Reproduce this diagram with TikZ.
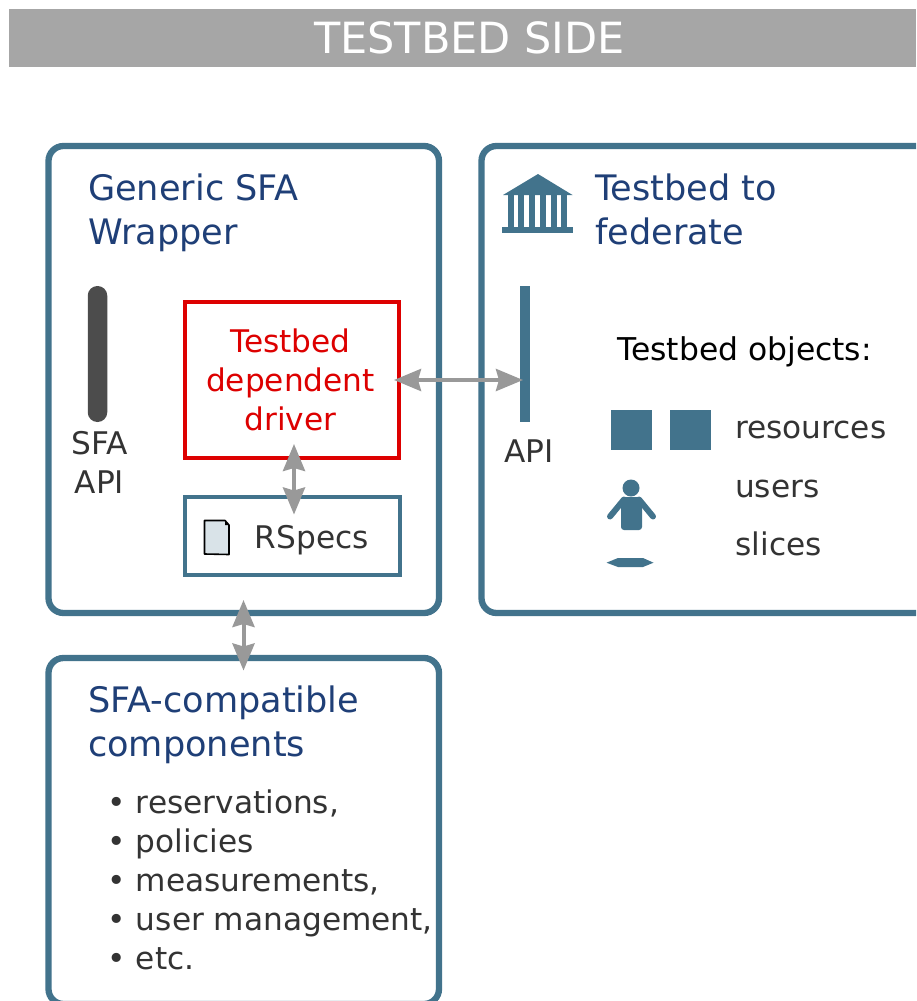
\documentclass[tikz,border=0pt]{standalone}
\usepackage{fontspec}
\setmainfont{DejaVu Sans}
\usetikzlibrary{arrows.meta}
\definecolor{steel}{HTML}{42738C}
\definecolor{headblue}{HTML}{1F3F77}
\definecolor{bodygray}{HTML}{333333}
\definecolor{drvred}{HTML}{DD0000}
\definecolor{arrowgray}{HTML}{999999}
\tikzset{
 panel/.style={draw=steel,line width=6.3pt,rounded corners=15pt,fill=white},
 heading/.style={anchor=base west,inner sep=0pt,text=headblue,align=left,font=\fontsize{35.1}{44}\selectfont},
 bodytext/.style={anchor=base west,inner sep=0pt,text=bodygray,font=\fontsize{31.2}{39}\selectfont},
 midtext/.style={anchor=base,inner sep=0pt,text=bodygray,align=center,font=\fontsize{31.2}{39}\selectfont},
 biarrow/.style={draw=arrowgray,line width=4pt,{Stealth[length=27pt,width=22pt,inset=3pt]}-{Stealth[length=27pt,width=22pt,inset=3pt]}},
 steelfill/.style={fill=steel,draw=none},
}
\begin{document}
\begin{tikzpicture}[x=1pt,y=-1pt]
\useasboundingbox[clip] (0,0) rectangle (916,1001);
\node[fill=white,draw=none,inner sep=0pt,minimum width=916pt,minimum height=1001pt] (page) at (458,500.5) {};
% title
\fill[fill=black!35] (9,9) rectangle (916,67);
\node[anchor=base,inner sep=0pt,text=white,font=\fontsize{43}{50}\selectfont] (title) at (469.5,53) {TESTBED SIDE};
% panels
\draw[panel] (48.5,146) rectangle (439,613);
\draw[panel] (481.5,146) rectangle (960,613);
\draw[panel] (48.5,658) rectangle (439,1004);
% headings
\node[heading] (generic) at (88,244) {Generic SFA\\Wrapper};
\node[heading] (testbed) at (595,244) {Testbed to\\federate};
\node[heading] (compat) at (88,756) {SFA-compatible\\components};
% temple
\fill[steelfill] (538,174) -- (572.5,195) -- (503,195) -- cycle;
\foreach \cx in {508,518.3,529,540,551,561}{\fill[steelfill] (\cx,195) rectangle ++(6,32);}
\fill[steelfill] (502,227) rectangle (572.5,233);
% SFA API
\node[fill=black!70,draw=none,rounded corners=9.7pt,minimum width=19.5pt,minimum height=136pt,inner sep=0pt] (sfaapi) at (97.5,354) {};
\node[midtext] (sfalabel) at (99.5,493) {SFA\\API};
% driver
\node[draw=drvred,line width=4pt,fill=white,minimum width=214pt,minimum height=156pt,inner sep=0pt,outer sep=0pt] (driver) at (292,380) {};
\node[anchor=base,inner sep=0pt,text=drvred,align=center,font=\fontsize{31.2}{39}\selectfont] (drvtext) at (290.5,430.5) {Testbed\\dependent\\driver};
% rspecs
\node[draw=steel,line width=4pt,fill=white,minimum width=215pt,minimum height=78pt,inner sep=0pt,outer sep=0pt] (rspecs) at (292.5,536) {};
\fill[fill=steel!20] (204.5,520.5) -- (225,520.5) -- (229,525) -- (229,554.5) -- (204.5,554) -- cycle;
\draw[black,line width=1.6pt,line join=round] (204.5,520.5) -- (225,520.5) -- (229,525) -- (229,554.5) -- (204.5,554) -- cycle;
\fill[black] (225,520.5) -- (229,525) -- (225,525) -- cycle;
\node[bodytext] (rspecstext) at (254.5,548.5) {RSpecs};
% API bar
\node[steelfill,minimum width=10pt,minimum height=136pt,inner sep=0pt,outer sep=0pt] (apibar) at (525,354) {};
\node[bodytext] (apilabel) at (504,462) {API};
% objects
\node[anchor=base west,inner sep=0pt,text=black,font=\fontsize{31.4}{39}\selectfont] (objects) at (617,360) {Testbed objects:};
\fill[steelfill] (611,410) rectangle (652,450);
\fill[steelfill] (670,410) rectangle (711,450);
\node[bodytext] (resources) at (735,438) {resources};
\node[bodytext] (users) at (735,497) {users};
\node[bodytext] (slices) at (735.5,555.5) {slices};
% person
\fill[steelfill] (631,488) circle (8.5);
\fill[steelfill,rounded corners=3pt] (621,497) rectangle (642,530);
\draw[steel,line width=6pt,line cap=round] (624,499.5) -- (610,516.5);
\draw[steel,line width=6pt,line cap=round] (639,499.5) -- (653,516.5);
% slice
\fill[steelfill] (606.5,562.7) -- (618,558) -- (643,558) -- (653.5,562.7) -- (643,567) -- (618,567) -- cycle;
% bullets
\node[anchor=base west,inner sep=0pt,text=bodygray,align=left,font=\fontsize{31.2}{39}\selectfont] (list) at (107.5,969) {•\ reservations,\\•\ policies\\•\ measurements,\\•\ user management,\\•\ etc.};
% connectors
\coordinate (drvE) at ([xshift=-5pt]driver.east);
\coordinate (apiW) at ([xshift=3pt]apibar.west |- driver.east);
\coordinate (drvS) at (294,444);
\coordinate (rspN) at (294,514.5);
\coordinate (wrapS) at (243.5,600);
\coordinate (compN) at (243.5,670.5);
\draw[biarrow] (drvE) -- (apiW);
\draw[biarrow] (drvS) -- (rspN);
\draw[biarrow] (wrapS) -- (compN);
\end{tikzpicture}
\end{document}
